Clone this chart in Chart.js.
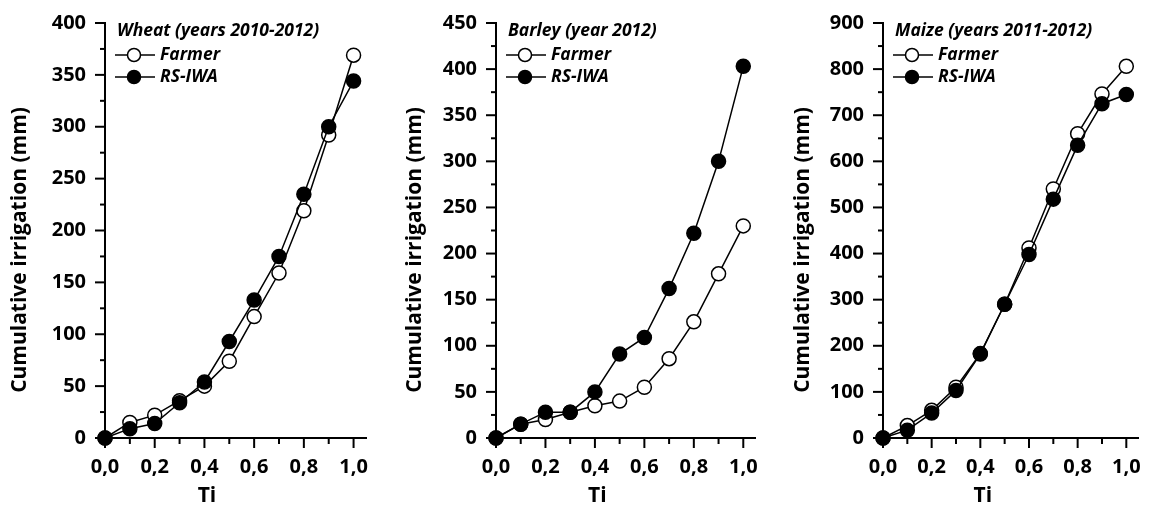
<!DOCTYPE html>
<html>
<head>
<meta charset="utf-8">
<script src="https://cdn.jsdelivr.net/npm/chart.js@4.4.1/dist/chart.umd.min.js"></script>
<style>
    html, body { margin: 0; padding: 0; background: #fff; }
    #wrap { position: relative; width: 1149px; height: 507px; }
    .panel { position: absolute; top: 0; width: 383px; height: 507px; }
</style>
</head>
<body>
<div id="wrap">
    <div class="panel" style="left:0px"><canvas id="wheatChart" width="383" height="507"></canvas></div>
    <div class="panel" style="left:383px"><canvas id="barleyChart" width="383" height="507"></canvas></div>
    <div class="panel" style="left:766px"><canvas id="maizeChart" width="383" height="507"></canvas></div>
</div>
<script>
// x values (Ti) shared by all panels
const tiValues = [0, 0.1, 0.2, 0.3, 0.4, 0.5, 0.6, 0.7, 0.8, 0.9, 1.0];

// Wheat (years 2010-2012)
const wheatFarmer = [0, 15, 22, 36, 50, 74, 117, 159, 219, 292, 369];
const wheatRsIwa  = [0, 9, 14, 34, 54, 93, 133, 175, 235, 300, 344];
const wheatYTicks = [0, 50, 100, 150, 200, 250, 300, 350, 400];

// Barley (year 2012)
const barleyFarmer = [0, 15, 20, 28, 35, 40, 55, 86, 126, 178, 230];
const barleyRsIwa  = [0, 15, 28, 28, 50, 91, 109, 162, 222, 300, 403];
const barleyYTicks = [0, 50, 100, 150, 200, 250, 300, 350, 400, 450];

// Maize (years 2011-2012)
const maizeFarmer = [0, 27, 60, 110, 183, 290, 412, 540, 660, 746, 806];
const maizeRsIwa  = [0, 17, 54, 103, 182, 290, 398, 518, 635, 725, 745];
const maizeYTicks = [0, 100, 200, 300, 400, 500, 600, 700, 800, 900];

const seriesNames = ['Farmer', 'RS-IWA'];
const xTitle = 'Ti';
const yTitle = 'Cumulative irrigation (mm)';

const FONT = '"Open Sans", "DejaVu Sans", sans-serif';

// axes ticks, titles and legend drawn on top of the chart
const decorPlugin = {
    id: 'decor',
    afterDraw(chart, args, opts) {
        const ctx = chart.ctx;
        const xs = chart.scales.x;
        const ys = chart.scales.y;
        const step = opts.yStep;
        ctx.save();
        ctx.strokeStyle = '#000';
        ctx.lineWidth = 2;

        // tick marks, minor ones shorter
        xs.ticks.forEach(t => {
            const px = xs.getPixelForValue(t.value);
            const major = Math.round(t.value * 10) % 2 === 0;
            ctx.beginPath();
            ctx.moveTo(px, xs.top);
            ctx.lineTo(px, xs.top + (major ? 10 : 6));
            ctx.stroke();
        });
        ys.ticks.forEach(t => {
            const py = ys.getPixelForValue(t.value);
            const major = t.value % step === 0;
            ctx.beginPath();
            ctx.moveTo(ys.right, py);
            ctx.lineTo(ys.right - (major ? 10 : 5), py);
            ctx.stroke();
        });

        // axis titles
        ctx.fillStyle = '#000';
        ctx.font = 'bold 21px ' + FONT;
        ctx.textAlign = 'center';
        ctx.textBaseline = 'middle';
        ctx.fillText(xTitle, xs.getPixelForValue(0.41), 496);
        ctx.save();
        ctx.translate(ys.right - opts.yTitleOffset, 250);
        ctx.rotate(-Math.PI / 2);
        ctx.fillText(yTitle, 0, 0);
        ctx.restore();

        // legend
        const lx = ys.right;
        ctx.textAlign = 'left';
        ctx.font = 'italic bold 17.5px ' + FONT;
        ctx.fillText(opts.title, lx + 12, 31);
        chart.data.datasets.forEach((ds, i) => {
            const y = 55 + i * 22;
            ctx.lineWidth = 1.5;
            ctx.beginPath();
            ctx.moveTo(lx + 10, y);
            ctx.lineTo(lx + 50, y);
            ctx.stroke();
            ctx.beginPath();
            ctx.arc(lx + 29, y, 6.5, 0, Math.PI * 2);
            ctx.fillStyle = ds.pointBackgroundColor;
            ctx.fill();
            ctx.stroke();
            ctx.fillStyle = '#000';
            ctx.fillText(ds.label, lx + 55, y);
        });
        ctx.restore();
    }
};

function makeChart(canvasId, title, farmer, rsIwa, yTicks, axisX, padRight, yTitleOffset) {
    const yStep = yTicks[1] - yTicks[0];
    // minor ticks half way between labelled ones
    const yAll = [];
    yTicks.forEach((v, i) => {
        yAll.push(v);
        if (i < yTicks.length - 1) yAll.push(v + yStep / 2);
    });
    return new Chart(document.getElementById(canvasId), {
        type: 'line',
        data: {
            datasets: [
                {
                    label: seriesNames[0],
                    data: tiValues.map((x, i) => ({ x: x, y: farmer[i] })),
                    borderColor: '#000',
                    borderWidth: 1.5,
                    pointRadius: 7,
                    pointBorderWidth: 1.5,
                    pointBackgroundColor: '#fff',
                    pointBorderColor: '#000',
                    order: 1
                },
                {
                    label: seriesNames[1],
                    data: tiValues.map((x, i) => ({ x: x, y: rsIwa[i] })),
                    borderColor: '#000',
                    borderWidth: 1.5,
                    pointRadius: 7,
                    pointBorderWidth: 1.5,
                    pointBackgroundColor: '#000',
                    pointBorderColor: '#000',
                    order: 0
                }
            ]
        },
        options: {
            responsive: false,
            animation: false,
            events: [],
            clip: false,
            layout: { padding: { left: 0, top: 23, right: padRight, bottom: 0 } },
            plugins: {
                legend: { display: false },
                tooltip: { enabled: false },
                decor: { title: title, yStep: yStep, yTitleOffset: yTitleOffset }
            },
            scales: {
                x: {
                    type: 'linear',
                    min: 0,
                    max: 1.05,
                    afterBuildTicks: s => { s.ticks = tiValues.map(v => ({ value: v })); },
                    afterFit: s => { s.height = 507 - 438; },
                    grid: { drawOnChartArea: false, tickLength: 9, tickColor: 'rgba(0,0,0,0)' },
                    border: { display: true, color: '#000', width: 2 },
                    ticks: {
                        autoSkip: false,
                        maxRotation: 0,
                        padding: 8,
                        color: '#000',
                        font: { family: FONT, size: 20, weight: 'bold' },
                        callback: v => (Math.round(v * 10) % 2 === 0 ? v.toFixed(1).replace('.', ',') : '')
                    }
                },
                y: {
                    min: 0,
                    max: yTicks[yTicks.length - 1],
                    afterBuildTicks: s => { s.ticks = yAll.map(v => ({ value: v })); },
                    afterFit: s => { s.width = axisX; },
                    grid: { drawOnChartArea: false, tickLength: 9, tickColor: 'rgba(0,0,0,0)' },
                    border: { display: true, color: '#000', width: 2 },
                    ticks: {
                        autoSkip: false,
                        padding: 10,
                        color: '#000',
                        font: { family: FONT, size: 20, weight: 'bold' },
                        callback: v => (v % yStep === 0 ? String(v) : '')
                    }
                }
            }
        },
        plugins: [decorPlugin]
    });
}

makeChart('wheatChart', 'Wheat (years 2010-2012)', wheatFarmer, wheatRsIwa, wheatYTicks, 105, 17, 85);
makeChart('barleyChart', 'Barley (year 2012)', barleyFarmer, barleyRsIwa, barleyYTicks, 113, 9, 81);
makeChart('maizeChart', 'Maize (years 2011-2012)', maizeFarmer, maizeRsIwa, maizeYTicks, 117, 5, 80);
</script>
</body>
</html>
